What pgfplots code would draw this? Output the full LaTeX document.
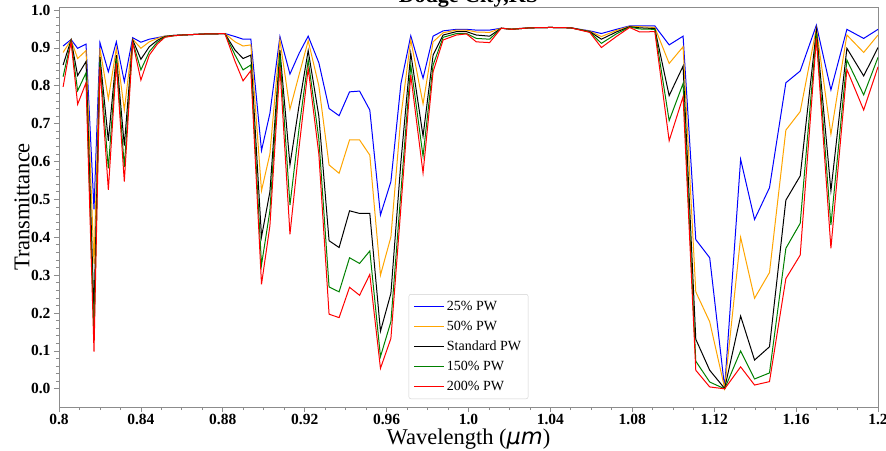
\documentclass[border=0pt]{standalone}
\usepackage{fontspec}
\setmainfont{Liberation Serif}
\newfontfamily\djv{DejaVu Sans}
\usepackage{pgfplots}
\usepackage{pgfplotstable}
\pgfplotsset{compat=1.18}
\usetikzlibrary{calc}
\definecolor{axgray}{HTML}{8C8C8C}
\definecolor{leggray}{HTML}{D0D0D0}
\definecolor{pwblue}{HTML}{0000FF}
\definecolor{pworange}{HTML}{FFA500}
\definecolor{pwgreen}{HTML}{008000}
\definecolor{pwred}{HTML}{FF0000}

% x, 25% PW, 50% PW, standard, 150% PW, 200% PW
\pgfplotstableread{
x      b     o     k     g     r
0.8020 0.905 0.888 0.855 0.824 0.797
0.8059 0.922 0.921 0.921 0.919 0.916
0.8091 0.899 0.872 0.827 0.787 0.751
0.8132 0.910 0.893 0.864 0.834 0.808
0.8171 0.474 0.330 0.203 0.140 0.098
0.8200 0.914 0.899 0.877 0.864 0.850
0.8241 0.837 0.765 0.655 0.582 0.525
0.8280 0.916 0.899 0.881 0.872 0.859
0.8319 0.811 0.736 0.642 0.586 0.547
0.8360 0.927 0.923 0.921 0.916 0.914
0.8400 0.915 0.899 0.870 0.842 0.815
0.8441 0.923 0.916 0.903 0.890 0.881
0.8480 0.927 0.925 0.920 0.915 0.910
0.8517 0.931 0.931 0.930 0.929 0.928
0.8560 0.933 0.933 0.933 0.932 0.932
0.8600 0.934 0.934 0.934 0.934 0.934
0.8640 0.935 0.935 0.935 0.935 0.935
0.8680 0.936 0.936 0.936 0.936 0.936
0.8720 0.937 0.937 0.937 0.937 0.937
0.8760 0.937 0.937 0.937 0.937 0.937
0.8810 0.938 0.938 0.938 0.938 0.938
0.8860 0.930 0.916 0.894 0.881 0.864
0.8899 0.923 0.905 0.872 0.842 0.813
0.8937 0.923 0.908 0.881 0.855 0.840
0.8989 0.629 0.523 0.401 0.327 0.276
0.9030 0.727 0.620 0.520 0.470 0.430
0.9079 0.930 0.921 0.894 0.881 0.850
0.9128 0.831 0.738 0.591 0.485 0.408
0.9173 0.886 0.830 0.750 0.690 0.640
0.9217 0.931 0.919 0.893 0.868 0.846
0.9269 0.861 0.800 0.720 0.660 0.620
0.9319 0.740 0.591 0.391 0.269 0.197
0.9368 0.721 0.569 0.373 0.256 0.188
0.9419 0.784 0.657 0.470 0.346 0.268
0.9468 0.786 0.657 0.463 0.331 0.247
0.9518 0.736 0.617 0.463 0.364 0.302
0.9570 0.459 0.300 0.152 0.085 0.054
0.9621 0.547 0.401 0.252 0.177 0.133
0.9670 0.806 0.720 0.600 0.520 0.480
0.9718 0.932 0.921 0.886 0.855 0.828
0.9778 0.820 0.752 0.667 0.614 0.570
0.9827 0.931 0.916 0.881 0.855 0.837
0.9876 0.945 0.940 0.934 0.928 0.921
0.9941 0.949 0.947 0.943 0.938 0.934
0.9990 0.949 0.947 0.943 0.938 0.937
1.0038 0.947 0.942 0.934 0.925 0.916
1.0103 0.947 0.941 0.931 0.923 0.914
1.0160 0.952 0.952 0.952 0.952 0.952
1.0210 0.950 0.950 0.949 0.949 0.949
1.0300 0.953 0.953 0.953 0.953 0.953
1.0400 0.954 0.954 0.954 0.954 0.954
1.0500 0.953 0.953 0.953 0.953 0.953
1.0592 0.945 0.944 0.943 0.942 0.941
1.0649 0.938 0.930 0.923 0.912 0.901
1.0722 0.949 0.946 0.942 0.937 0.930
1.0787 0.958 0.957 0.956 0.955 0.954
1.0836 0.958 0.956 0.953 0.950 0.942
1.0910 0.958 0.954 0.951 0.949 0.943
1.0980 0.908 0.859 0.774 0.708 0.655
1.1048 0.931 0.903 0.852 0.806 0.771
1.1110 0.394 0.256 0.131 0.073 0.049
1.1178 0.346 0.177 0.049 0.018 0.005
1.1251 0.003 0.002 0.001 0.000 0.000
1.1329 0.606 0.400 0.192 0.100 0.058
1.1397 0.447 0.239 0.076 0.026 0.010
1.1470 0.531 0.307 0.111 0.042 0.019
1.1550 0.808 0.683 0.498 0.371 0.291
1.1620 0.839 0.732 0.562 0.437 0.353
1.1699 0.960 0.952 0.947 0.938 0.925
1.1770 0.789 0.672 0.523 0.432 0.371
1.1848 0.949 0.934 0.899 0.868 0.843
1.1930 0.925 0.888 0.826 0.776 0.736
1.2000 0.949 0.934 0.901 0.875 0.850
}\pwdata

\begin{document}
\begin{tikzpicture}
\begin{axis}[
  name=ax,
  scale only axis,
  width=819pt, height=400pt,
  xmin=0.8, xmax=1.2, ymin=-0.048, ymax=1.008,
  xtick={0.8,0.84,0.88,0.92,0.96,1.0,1.04,1.08,1.12,1.16,1.2},
  xticklabels={0.8,0.84,0.88,0.92,0.96,1.0,1.04,1.08,1.12,1.16,1.2},
  ytick={0,0.1,0.2,0.3,0.4,0.5,0.6,0.7,0.8,0.9,1.0},
  yticklabels={0.0,0.1,0.2,0.3,0.4,0.5,0.6,0.7,0.8,0.9,1.0},
  minor x tick num=3,
  minor y tick num=4,
  tick align=outside,
  xtick pos=left, ytick pos=left,
  major tick length=5pt, minor tick length=3pt,
  every tick/.style={axgray, line width=0.8pt},
  axis line style={axgray, line width=0.8pt},
  tick label style={font=\fontsize{15.5}{16}\selectfont\bfseries, text=black},
  xticklabel style={yshift=1.5pt},
  every axis x label/.style={at={(axis description cs:0.5,-0.0925)}, anchor=base},
  every axis y label/.style={at={(axis description cs:-0.0452,0.5)}, rotate=90, anchor=center},
  label style={font=\fontsize{22.5}{24}\selectfont},
  xlabel={Wavelength ({\djv\itshape μm})},
  ylabel={Transmittance},
  legend cell align=left,
  legend style={at={(axis description cs:0.5,0.02)}, anchor=south,
    draw=leggray, rounded corners=2pt, fill=white,
    font=\fontsize{14}{16}\selectfont, inner xsep=5pt, inner ysep=2pt,
    nodes={inner ysep=4.6pt}},
  legend image code/.code={\draw[#1] (0pt,0pt) -- (30pt,0pt);},
  every axis plot/.append style={line width=1pt, mark=none},
]
\addplot[pwblue] table[x=x, y=b] {\pwdata};
\addplot[pworange] table[x=x, y=o] {\pwdata};
\addplot[black] table[x=x, y=k] {\pwdata};
\addplot[pwgreen] table[x=x, y=g] {\pwdata};
\addplot[pwred] table[x=x, y=r] {\pwdata};
\legend{25\% PW, 50\% PW, Standard PW, 150\% PW, 200\% PW}
\end{axis}
\node[anchor=base, font=\fontsize{22}{24}\selectfont\bfseries] at ($(ax.north)+(0,4pt)$) {Dodge City,KS};
\pgfresetboundingbox
\path[use as bounding box] ($(ax.south west)+(-59pt,-43pt)$) rectangle ($(ax.north east)+(8pt,7pt)$);
\end{tikzpicture}
\end{document}
